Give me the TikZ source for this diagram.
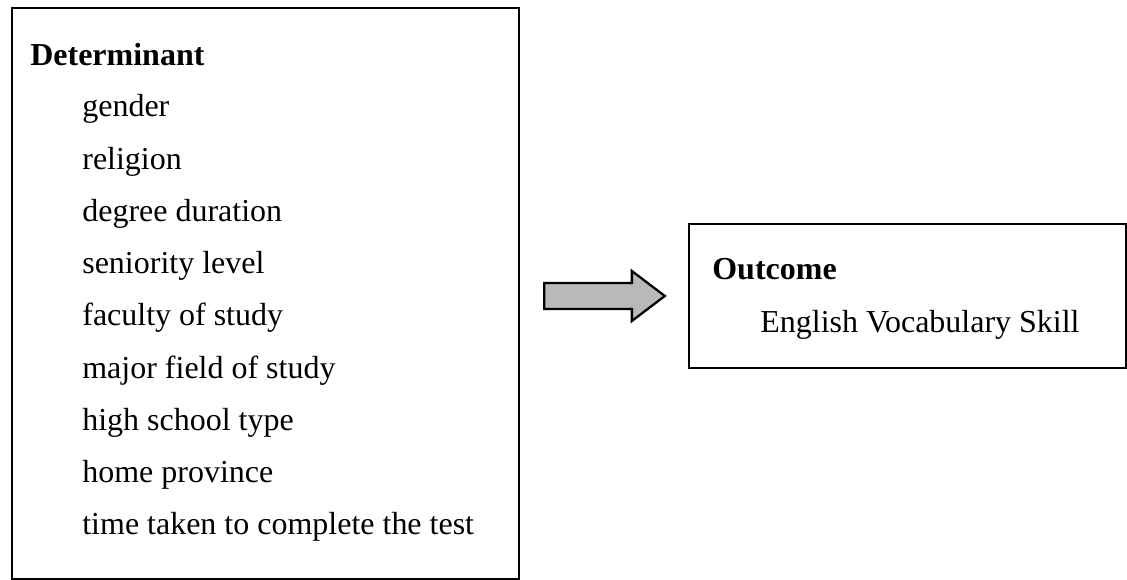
\documentclass[tikz,border=0pt]{standalone}
\usepackage{fontspec}
\setmainfont{Liberation Serif}
\usepackage{tikz}
\usetikzlibrary{calc}

\tikzset{
  box/.style={draw,line width=1.3pt,rectangle,inner sep=0pt},
  head/.style={font=\fontsize{18.2pt}{20pt}\selectfont\bfseries,inner sep=0pt,anchor=base west},
  item/.style={font=\fontsize{18.2pt}{20pt}\selectfont,inner sep=0pt,anchor=base west},
  blockarrow/.style={draw,line width=1.3pt,fill=gray!55,line join=miter}
}

\begin{document}
\begin{tikzpicture}[x=0.2mm,y=-0.2mm]
\useasboundingbox(0,0)rectangle(1127,580);
% boxes
\node[box,minimum width=101.4mm,minimum height=114.2mm](det)at(265.5,293.5){};
\node[box,minimum width=87.4mm,minimum height=28.8mm](out)at(907.5,296){};
% left box texts
\node[head](dethead)at(30,66){Determinant};
\foreach \t [count=\i from 0] in {gender,religion,degree duration,seniority level,faculty of study,major field of study,high school type,home province,time taken to complete the test}
  \node[item](det\i)at(82,117+52.25*\i){\t};
% right box texts
\node[head](outhead)at(712,280){Outcome};
\node[item](out0)at(760,333){English Vocabulary Skill};
% block arrow
\coordinate(tail)at($(det.east |- out.west)+(24,0)$);
\coordinate(tip)at($(out.west)+(-23,0)$);
\draw[blockarrow]($(tail)+(0,-13)$)--($(tip)+(-33,-13)$)--($(tip)+(-33,-25)$)--(tip)
  --($(tip)+(-33,25)$)--($(tip)+(-33,13)$)--($(tail)+(0,13)$)--cycle;
\end{tikzpicture}
\end{document}
